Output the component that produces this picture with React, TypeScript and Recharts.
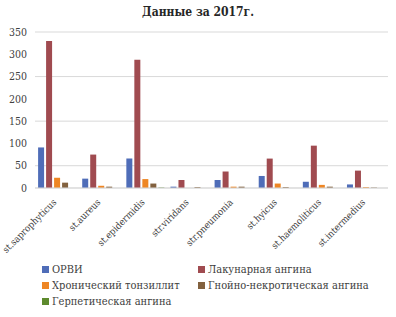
import { Bar, BarChart, CartesianGrid, XAxis, YAxis } from "recharts";

if (typeof document !== "undefined") document.body.style.margin = "0";

const categories = [
  "st.saprophyticus",
  "st.aureus",
  "st.epidermidis",
  "str.viridans",
  "str.pneumonia",
  "st.hyicus",
  "st.haemoliticus",
  "st.intermedius",
];
const orvi = [91, 21, 66, 3, 18, 27, 14, 8];
const lacunar = [330, 75, 288, 18, 37, 66, 95, 39];
const chronic = [23, 5, 20, 0, 3, 10, 7, 2];
const purulent = [12, 3, 10, 2, 3, 2, 3, 1];
const herpetic = [0, 0, 1, 0, 0, 0, 0, 0];
const yTicks = [0, 50, 100, 150, 200, 250, 300, 350];

const series = [
  { key: "orvi", name: "ОРВИ", color: "#4F6DB8" },
  { key: "lacunar", name: "Лакунарная ангина", color: "#A04B50" },
  { key: "chronic", name: "Хронический тонзиллит", color: "#EE8624" },
  { key: "purulent", name: "Гнойно-некротическая ангина", color: "#82613E" },
  { key: "herpetic", name: "Герпетическая ангина", color: "#5D8A2D" },
];

const data = categories.map((c, i) => ({
  name: c,
  orvi: orvi[i],
  lacunar: lacunar[i],
  chronic: chronic[i],
  purulent: purulent[i],
  herpetic: herpetic[i],
}));

const font = "'DejaVu Serif Condensed', 'DejaVu Serif', serif";

function XTick({ x, y, payload }: any) {
  return (
    <text
      x={x}
      y={y}
      dy={7}
      transform={`rotate(-45, ${x}, ${y + 7})`}
      textAnchor="end"
      fontSize={9.5}
      fontFamily={font}
      style={{ fontStretch: "condensed" }}
      fill="#404040"
    >
      {payload.value}
    </text>
  );
}

const legendPos = [
  [42, 263],
  [198, 263],
  [42, 279],
  [198, 279],
  [42, 295],
];

export default function App() {
  return (
    <div style={{ position: "relative", width: 396, height: 317, background: "#fff" }}>
      <div
        style={{
          position: "absolute",
          top: 5,
          left: 0,
          width: 396,
          textAlign: "center",
          fontFamily: font,
          fontStretch: "condensed",
          fontWeight: "bold",
          fontSize: 12,
          color: "#262626",
        }}
      >
        Данные за 2017г.
      </div>
      <BarChart
        width={396}
        height={317}
        data={data}
        margin={{ top: 32, right: 8, left: 0, bottom: 63 }}
        barCategoryGap="7%"
        barGap={2}
      >
        <CartesianGrid vertical={false} stroke="#D9D9D9" />
        <XAxis
          dataKey="name"
          interval={0}
          tickLine={false}
          axisLine={{ stroke: "#D9D9D9" }}
          height={66}
          tick={<XTick />}
        />
        <YAxis
          width={35}
          domain={[0, 350]}
          ticks={yTicks}
          tickLine={false}
          axisLine={false}
          tick={{ fontSize: 10.5, fontFamily: font, fill: "#404040", style: { fontStretch: "condensed" } }}
        />
        {series.map((s) => (
          <Bar key={s.key} dataKey={s.key} name={s.name} fill={s.color} isAnimationActive={false} />
        ))}
      </BarChart>
      {series.map((s, i) => (
        <div
          key={s.key}
          style={{
            position: "absolute",
            left: legendPos[i][0],
            top: legendPos[i][1],
            display: "flex",
            alignItems: "center",
            whiteSpace: "nowrap",
            fontFamily: font,
            fontStretch: "condensed",
            fontSize: 11,
            color: "#404040",
          }}
        >
          <span style={{ display: "inline-block", width: 7, height: 7, background: s.color, marginRight: 3 }} />
          {s.name}
        </div>
      ))}
    </div>
  );
}
